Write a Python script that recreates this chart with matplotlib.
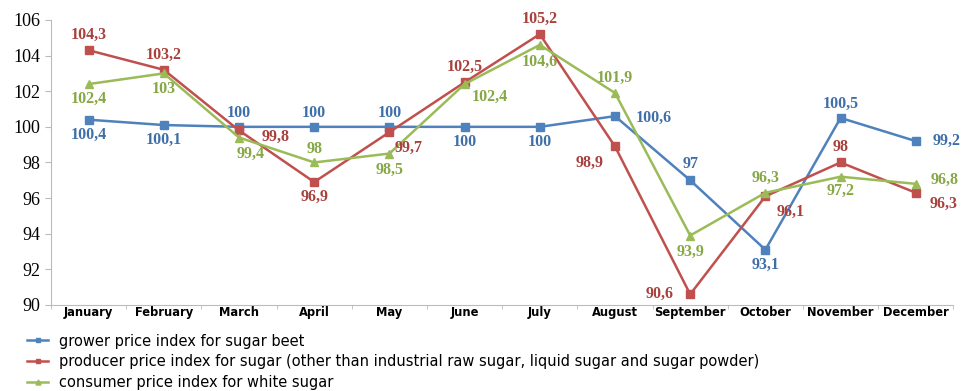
import matplotlib.pyplot as plt

# data
months = ["January", "February", "March", "April", "May", "June", "July",
          "August", "September", "October", "November", "December"]
grower = [100.4, 100.1, 100, 100, 100, 100, 100, 100.6, 97, 93.1, 100.5, 99.2]
producer = [104.3, 103.2, 99.8, 96.9, 99.7, 102.5, 105.2, 98.9, 90.6, 96.1, 98, 96.3]
consumer = [102.4, 103, 99.4, 98, 98.5, 102.4, 104.6, 101.9, 93.9, 96.3, 97.2, 96.8]

# label offsets (points) for each data label
off_g = [(0, -11), (0, -11), (0, 10), (0, 10), (0, 10), (0, -11), (0, -11),
         (28, -1), (0, 12), (0, -11), (0, 10), (22, 0)]
off_p = [(0, 11), (0, 11), (26, -5), (0, -11), (14, -11), (0, 11), (0, 11),
         (-18, -12), (-22, 0), (18, -11), (0, 11), (20, -8)]
off_g2 = [(0, -11), (0, -11), (8, -12), (0, 10), (0, -12), (18, -9), (0, -12),
          (0, 11), (0, -12), (0, 11), (0, -10), (21, 3)]

blue, red, green = "#4F81BD", "#C0504D", "#9BBB59"
blue_t, red_t, green_t = "#3F6FA8", "#A8403C", "#86A844"

fig = plt.figure(figsize=(9.63, 3.91), dpi=100)
ax = fig.add_axes([0.053, 0.22, 0.937, 0.729])
x = list(range(len(months)))

ax.plot(x, grower, color=blue, marker="s", markersize=6, lw=1.8,
        label="grower price index for sugar beet")
ax.plot(x, producer, color=red, marker="s", markersize=6, lw=1.8,
        label="producer price index for sugar (other than industrial raw sugar, liquid sugar and sugar powder)")
ax.plot(x, consumer, color=green, marker="^", markersize=6, lw=1.8,
        label="consumer price index for white sugar")

def lab(vals, offs, col):
    for i, (v, o) in enumerate(zip(vals, offs)):
        ax.annotate(("%g" % v).replace(".", ","), (i, v), xytext=o,
                    textcoords="offset points", ha="center", va="center",
                    fontsize=11.5, color=col, family="Liberation Serif",
                    fontweight="bold")

lab(grower, off_g, blue_t)
lab(producer, off_p, red_t)
lab(consumer, off_g2, green_t)

ax.set_xlim(-0.5, 11.5)
ax.set_ylim(90, 106)
ax.set_yticks(range(90, 107, 2))
ax.set_yticklabels([str(v) for v in range(90, 107, 2)],
                   family="Liberation Serif", fontsize=13)
ax.set_xticks(x)
ax.set_xticklabels(months, fontsize=8.3, fontweight="bold")
ax.set_xticks([i + 0.5 for i in range(-1, 12)], minor=True)
ax.tick_params(axis="x", which="major", length=0, pad=1)
ax.tick_params(axis="x", which="minor", length=3, color="#BBBBBB")
ax.tick_params(axis="y", length=4, color="#BBBBBB", pad=4)
for s in ["top", "right"]:
    ax.spines[s].set_visible(False)
for s in ["left", "bottom"]:
    ax.spines[s].set_color("#BBBBBB")

fig.legend(loc="lower left", bbox_to_anchor=(0.014, -0.03), frameon=False,
           fontsize=10.5, handlelength=1.5, handletextpad=0.7,
           labelspacing=0.38, markerscale=0.6)

fig.savefig("out.png", dpi=100)
